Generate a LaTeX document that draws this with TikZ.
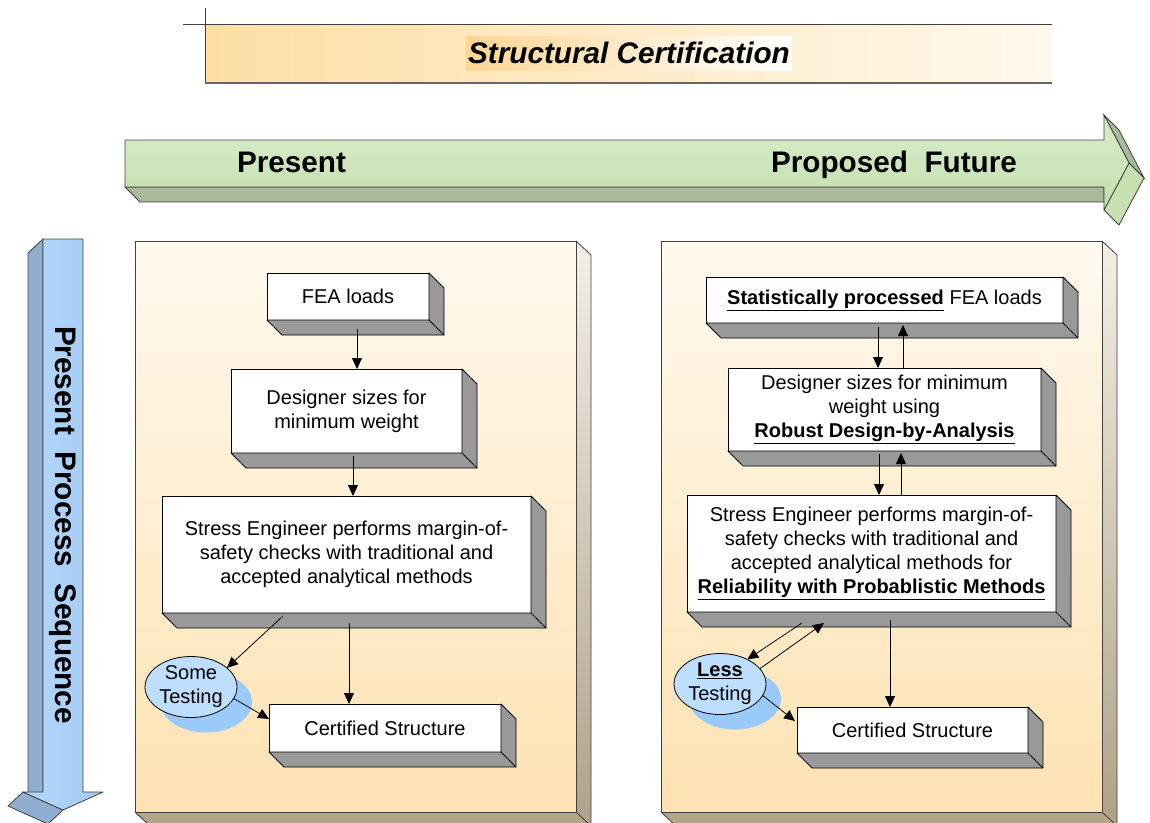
\documentclass[tikz,border=0pt]{standalone}
\usepackage{fontspec}
\setmainfont{Liberation Sans}
\usetikzlibrary{calc,shapes.geometric,arrows.meta}
\definecolor{panelTop}{HTML}{FFF9EE}
\definecolor{panelBot}{HTML}{FEE2B2}
\definecolor{sideTop}{HTML}{F3EFE6}
\definecolor{sideBot}{HTML}{AFA287}
\definecolor{panelBottom}{HTML}{B3A58A}
\definecolor{banL}{HTML}{FDDFA4}
\definecolor{banR}{HTML}{FFF8EC}
\definecolor{grTop}{HTML}{DAEECD}
\definecolor{grBot}{HTML}{C2DEAC}
\definecolor{grDepth}{HTML}{A9BA98}
\definecolor{grSide}{HTML}{C6E0B2}
\definecolor{blFront}{HTML}{B5D7FC}
\definecolor{blFront2}{HTML}{A4CAF2}
\definecolor{blDepth}{HTML}{8FAED0}
\definecolor{shBlue}{HTML}{99CAFA}
\definecolor{elBlue}{HTML}{BDDEFD}
\definecolor{boxGray}{HTML}{999999}
\definecolor{edge}{HTML}{404040}
\newcommand\depthbox[1]{%
  \filldraw[fill=boxGray, draw=black, line width=0.8pt, line join=round]
    (#1.north east) -- ($(#1.north east)+(15,15)$) -- ($(#1.south east)+(15,15)$)
    -- ($(#1.south west)+(15,15)$) -- (#1.south west) -- (#1.south east) -- cycle;
  \draw[line width=0.8pt] (#1.south east) -- ($(#1.south east)+(15,15)$);
}
\begin{document}
\begin{tikzpicture}[x=1pt,y=-1pt,
  txt/.style={font=\fontsize{20}{24}\selectfont},
  frontbox/.style={draw=black, fill=white, line width=0.8pt, outer sep=0pt,
    inner sep=0pt, align=center, txt},
  bubble/.style={ellipse, draw=black, fill=elBlue, line width=0.8pt, outer sep=0pt,
    inner sep=0pt, minimum width=92, minimum height=61, align=center, txt},
  arr/.style={-{Triangle[length=11pt,width=10pt]}, line width=0.8pt},
  big/.style={font=\fontsize{29.7}{32}\selectfont\bfseries}]
\useasboundingbox (0,0) rectangle (1150,822);
\clip (0,0) rectangle (1150,822);

% ---------- title banner ----------
\shade[left color=banL, right color=banR] (205,24) rectangle (1052,83);
\shade[left color=banL!90!orange, right color=white] (466,36) rectangle (792,70);
\draw[line width=0.9pt, edge] (183,24) -- (1052,24);
\draw[line width=0.9pt, edge] (205,8) -- (205,83);
\draw[line width=1.4pt, gray!80!black] (205,83) -- (1052,83);
\node[font=\fontsize{29.7}{32}\selectfont\bfseries\itshape, anchor=base] (title) at (629,63) {Structural Certification};

% ---------- green arrow ----------
\filldraw[fill=grDepth, draw=edge, line width=0.8pt] (125,187) -- (1104,187) -- (1104,202) -- (140,202) -- cycle;
\filldraw[fill=grDepth, draw=edge, line width=0.8pt] (1104,115) -- (1119,130) -- (1144,178) -- (1129,163) -- cycle;
\filldraw[fill=grSide, draw=edge, line width=0.8pt] (1129,163) -- (1144,178) -- (1119,225) -- (1104,210) -- cycle;
\shade[top color=grTop, bottom color=grBot] (125,140) -- (1104,140) -- (1104,115) -- (1129,163) -- (1104,210) -- (1104,187) -- (125,187) -- cycle;
\draw[edge, line width=0.8pt, line join=round] (125,140) -- (1104,140) -- (1104,115) -- (1129,163) -- (1104,210) -- (1104,187) -- (125,187) -- cycle;
\node[big, anchor=base] (present) at (291.5,172) {Present};
\node[big, anchor=base] (future) at (894,172) {Proposed\ \ Future};

% ---------- blue arrow ----------
\filldraw[fill=blDepth, draw=edge, line width=0.8pt] (43,239) -- (28,253) -- (28,806) -- (43,792) -- cycle;
\filldraw[fill=blDepth, draw=edge, line width=0.8pt] (23,792) -- (8,806) -- (48,824) -- (63,810) -- cycle;
\shade[left color=blFront, right color=blFront2] (43,239) -- (83,239) -- (83,792) -- (103,792) -- (63,810) -- (23,792) -- (43,792) -- cycle;
\draw[edge, line width=0.8pt, line join=round] (43,239) -- (83,239) -- (83,792) -- (103,792) -- (63,810) -- (23,792) -- (43,792) -- cycle;
\node[big, rotate=-90] (seq) at (63,525) {Present\ \ Process\ \ Sequence};

% ---------- panels ----------
\shade[top color=sideTop, bottom color=sideBot] (576,241) -- (591,255) -- (591,826) -- (576,812) -- cycle;
\fill[panelBottom] (135,812) -- (150,826) -- (591,826) -- (576,812) -- cycle;
\draw[edge, line width=0.8pt] (576,241) -- (591,255) -- (591,826) (576,812) -- (591,826) (135,812) -- (150,826);
\shade[top color=panelTop, bottom color=panelBot] (135,241) rectangle (576,812);
\draw[edge, line width=0.8pt] (135,241) rectangle (576,812);

\shade[top color=sideTop, bottom color=sideBot] (1102,241) -- (1117,255) -- (1117,826) -- (1102,812) -- cycle;
\fill[panelBottom] (661,812) -- (676,826) -- (1117,826) -- (1102,812) -- cycle;
\draw[edge, line width=0.8pt] (1102,241) -- (1117,255) -- (1117,826) (1102,812) -- (1117,826) (661,812) -- (676,826);
\shade[top color=panelTop, bottom color=panelBot] (661,241) rectangle (1102,812);
\draw[edge, line width=0.8pt] (661,241) rectangle (1102,812);

% ---------- left panel boxes ----------
\node[frontbox, minimum width=162, minimum height=47] (fea) at (348,296.5) {FEA loads};
\node[frontbox, minimum width=231, minimum height=84] (des) at (346.5,411) {Designer sizes for\\minimum weight};
\node[frontbox, minimum width=369, minimum height=117] (str) at (346.5,554.5)
  {Stress Engineer performs margin-of-\\safety checks with traditional and\\accepted analytical methods};
\node[frontbox, minimum width=232, minimum height=48] (cer) at (385,728) {Certified Structure};
\depthbox{fea}
\depthbox{des}
\depthbox{str}
\depthbox{cer}
\fill[shBlue] (206,702) ellipse [x radius=46pt, y radius=30.5pt];
\node[bubble] (some) at (191,687) {Some\\Testing};

% ---------- right panel boxes ----------
\node[frontbox, minimum width=357, minimum height=46] (sfea) at (884.5,300)
  {\underline{\textbf{Statistically processed}} FEA loads};
\node[frontbox, minimum width=313, minimum height=83] (rdes) at (884.5,409.5)
  {Designer sizes for minimum\\weight using\\\underline{\textbf{Robust Design-by-Analysis}}};
\node[frontbox, minimum width=369, minimum height=117] (rstr) at (871.5,553.5)
  {Stress Engineer performs margin-of-\\safety checks with traditional and\\accepted analytical methods for\\\underline{\textbf{Reliability with Probablistic Methods}}};
\node[frontbox, minimum width=231, minimum height=46] (rcer) at (912.5,730) {Certified Structure};
\depthbox{sfea}
\depthbox{rdes}
\depthbox{rstr}
\depthbox{rcer}
\fill[shBlue] (735,699) ellipse [x radius=46pt, y radius=30.5pt];
\node[bubble] (less) at (720,684) {\underline{\textbf{Less}}\\Testing};

% ---------- left connectors ----------
\coordinate (a1) at ($(fea.south)+(9,9)$);
\draw[arr] (a1) -- (a1 |- des.north);
\coordinate (a2) at ($(des.south)+(6.5,3)$);
\draw[arr] (a2) -- (a2 |- str.north);
\coordinate (a3) at ($(str.south)+(2.5,10)$);
\draw[arr] (a3) -- (a3 |- cer.north);
\coordinate (a4) at ($(str.south)+(-63.5,3)$);
\draw[arr] (a4) -- (some.28);
\draw[arr] (some.-15) -- ($(cer.west)+(0,-9)$);

% ---------- right connectors ----------
\coordinate (b1) at ($(sfea.south)+(-6.5,4)$);
\draw[arr] (b1) -- (b1 |- rdes.north);
\coordinate (b2) at ($(rdes.north)+(18.5,0)$);
\draw[arr] (b2) -- ($(sfea.south)+(18.5,2)$);
\coordinate (b3) at ($(rdes.south)+(-5.5,3)$);
\draw[arr] (b3) -- (b3 |- rstr.north);
\coordinate (b4) at ($(rstr.north)+(29.5,0)$);
\draw[arr] (b4) -- ($(rdes.south)+(16.5,2)$);
\coordinate (b5) at ($(rstr.south)+(-69.5,11)$);
\draw[arr] (b5) -- (less.42);
\draw[arr] (less.21) -- ($(rstr.south)+(-47.5,11)$);
\coordinate (b7) at ($(rstr.south)+(18.5,8)$);
\draw[arr] (b7) -- (b7 |- rcer.north);
\draw[arr] (less.-15) -- ($(rcer.west)+(-2,-9)$);
\end{tikzpicture}
\end{document}
